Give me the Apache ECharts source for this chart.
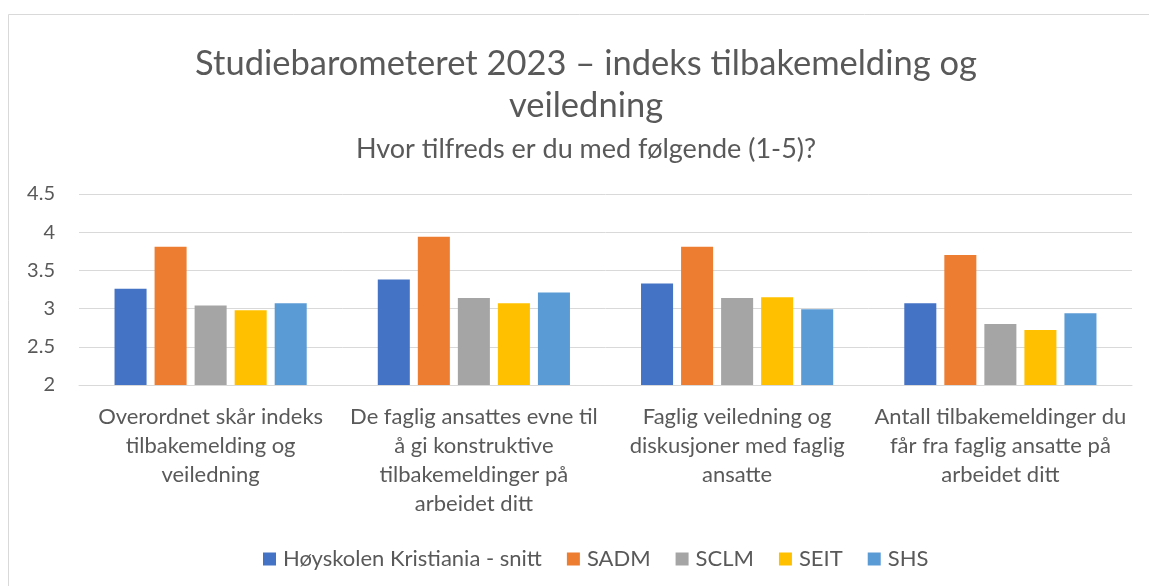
<!DOCTYPE html>
<html>
<head>
<meta charset="utf-8">
<script src="https://cdn.jsdelivr.net/npm/echarts@6/dist/echarts.min.js"></script>
<style>
html,body{margin:0;padding:0;background:#fff;}
#chart{width:1149px;height:586px;}
</style>
</head>
<body>
<div id="chart"></div>
<script>
const categories = [
  'Overordnet skår indeks\ntilbakemelding og\nveiledning',
  'De faglig ansattes evne til\nå gi konstruktive\ntilbakemeldinger på\narbeidet ditt',
  'Faglig veiledning og\ndiskusjoner med faglig\nansatte',
  'Antall tilbakemeldinger du\nfår fra faglig ansatte på\narbeidet ditt'
];
const seriesNames = ['Høyskolen Kristiania - snitt', 'SADM', 'SCLM', 'SEIT', 'SHS'];
const hkSnitt = [3.26, 3.38, 3.33, 3.07];
const sadm = [3.81, 3.94, 3.81, 3.70];
const sclm = [3.04, 3.14, 3.14, 2.80];
const seit = [2.98, 3.07, 3.15, 2.72];
const shs = [3.07, 3.21, 2.99, 2.94];
const titleText = 'Studiebarometeret 2023 – indeks tilbakemelding og\nveiledning';
const subtitleText = 'Hvor tilfreds er du med følgende (1-5)?';

const colors = ['#4472C4', '#ED7D31', '#A5A5A5', '#FFC000', '#5B9BD5'];
const seriesData = [hkSnitt, sadm, sclm, seit, shs];
const FONT = 'Lato';
const TXT = '#595959';

const chart = echarts.init(document.getElementById('chart'), null, {renderer: 'canvas'});
chart.setOption({
  animation: false,
  backgroundColor: '#ffffff',
  color: colors,
  textStyle: {fontFamily: FONT, color: TXT},
  graphic: [{
    type: 'rect',
    shape: {x: 8.5, y: 14.5, width: 1200, height: 700},
    style: {fill: 'none', stroke: '#D9D9D9', lineWidth: 1},
    silent: true
  }],
  title: [{
    text: titleText,
    left: 581,
    top: 38,
    textAlign: 'center',
    textStyle: {fontFamily: FONT, fontSize: 34.5, fontWeight: 'normal', color: TXT, lineHeight: 42}
  }, {
    text: subtitleText,
    left: 581,
    top: 129,
    textAlign: 'center',
    textStyle: {fontFamily: FONT, fontSize: 27, fontWeight: 'normal', color: TXT, lineHeight: 30}
  }],
  legend: {
    data: seriesNames,
    left: 258,
    top: 542,
    icon: 'rect',
    itemWidth: 13,
    itemHeight: 13,
    itemGap: 25,
    textStyle: {fontFamily: FONT, fontSize: 22, color: TXT, lineHeight: 24, padding: [0, 0, 0, 2]}
  },
  grid: {left: 79, right: 17, top: 194, bottom: 201},
  xAxis: {
    type: 'category',
    data: categories,
    axisLine: {show: true, lineStyle: {color: '#D9D9D9', width: 1}},
    axisTick: {show: false},
    axisLabel: {interval: 0, fontFamily: FONT, fontSize: 22, color: TXT, lineHeight: 29, margin: 17, align: 'center'}
  },
  yAxis: {
    type: 'value',
    min: 2,
    max: 4.5,
    interval: 0.5,
    axisLine: {show: false},
    axisTick: {show: false},
    axisLabel: {fontFamily: FONT, fontSize: 20, color: TXT, margin: 24},
    splitLine: {lineStyle: {color: '#D9D9D9', width: 1}}
  },
  series: seriesNames.map((n, i) => ({
    name: n,
    type: 'bar',
    data: seriesData[i],
    barGap: '25%',
    barCategoryGap: '27%',
    itemStyle: {color: colors[i]}
  }))
});
</script>
</body>
</html>
